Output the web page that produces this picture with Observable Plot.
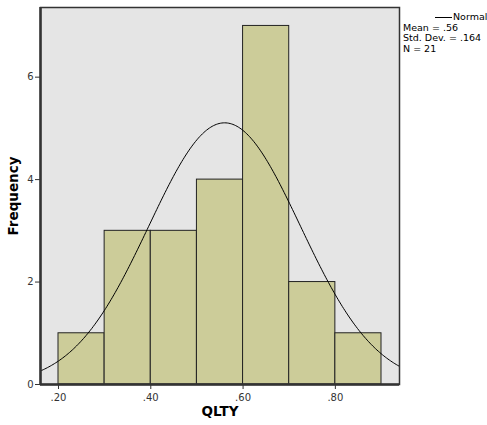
<!DOCTYPE html>
<html><head><meta charset="utf-8">
<script src="https://cdn.jsdelivr.net/npm/d3@7"></script>
<script src="https://cdn.jsdelivr.net/npm/@observablehq/plot@0.6"></script>
<style>
body{margin:0;background:#fff;font-family:"DejaVu Sans",sans-serif;}
#wrap{position:relative;width:487px;height:425px;}
#legend{position:absolute;left:403px;top:12px;font-size:9.5px;line-height:10.5px;color:#000;white-space:nowrap;}
#legend .ln{display:inline-block;width:17px;border-top:1px solid #000;vertical-align:middle;margin-left:32px;margin-right:1px;}
</style></head><body>
<div id="wrap"><div id="chart"></div>
<div id="legend"><div><span class="ln"></span>Normal</div><div>Mean = .56</div><div>Std. Dev. = .164</div><div>N = 21</div></div></div>
<script>
const binStarts = [0.2,0.3,0.4,0.5,0.6,0.7,0.8];
const counts = [1,3,3,4,7,2,1];
const binWidth = 0.1;
const mean = 0.56, sd = 0.164, n = 21;
const xTicks = [0.2,0.4,0.6,0.8];
const yTicks = [0,2,4,6];

const bins = binStarts.map((s,i)=>({x1:s,x2:s+binWidth,count:counts[i]}));
const xDomain = [0.161,0.939];
const curve = d3.range(xDomain[0], xDomain[1]+0.0001, 0.003).map(x=>({x, y: n*binWidth*Math.exp(-0.5*((x-mean)/sd)**2)/(sd*Math.sqrt(2*Math.PI))}));
const fmt = d=>d3.format(".2f")(d).replace(/^0/,"");

const chart = Plot.plot({
  width:487, height:425,
  marginLeft:40, marginRight:88, marginTop:7, marginBottom:41,
  style:{fontFamily:"DejaVu Sans, sans-serif", fontSize:"10px", color:"#333", background:"#fff"},
  x:{domain:xDomain},
  y:{domain:[0,7.36]},
  marks:[
    Plot.frame({fill:"#e5e5e5", stroke:null}),
    Plot.rectY(bins,{x1:"x1",x2:"x2",y:"count",fill:"#cccc99",stroke:"#222",strokeWidth:1}),
    Plot.line(curve,{x:"x",y:"y",stroke:"#000",strokeWidth:1,clip:true}),
    Plot.frame({stroke:"#333",strokeWidth:1.5}),
    Plot.axisX({ticks:xTicks, tickFormat:fmt, tickSize:5, tickPadding:4, label:"QLTY", labelAnchor:"center", labelArrow:"none", labelOffset:31}),
    Plot.axisY({ticks:yTicks, tickSize:5, tickPadding:2, label:"Frequency", labelAnchor:"center", labelArrow:"none", labelOffset:32}),
    Plot.ruleX([xDomain[0]],{stroke:"#333",strokeWidth:2.5}),
    Plot.ruleY([0],{stroke:"#333",strokeWidth:2.5})
  ]
});
d3.select(chart).selectAll("[aria-label='x-axis label'] text, [aria-label='y-axis label'] text").style("font-weight","bold").style("font-size","13.5px").style("fill","#000");
document.getElementById("chart").appendChild(chart);
</script></body></html>
